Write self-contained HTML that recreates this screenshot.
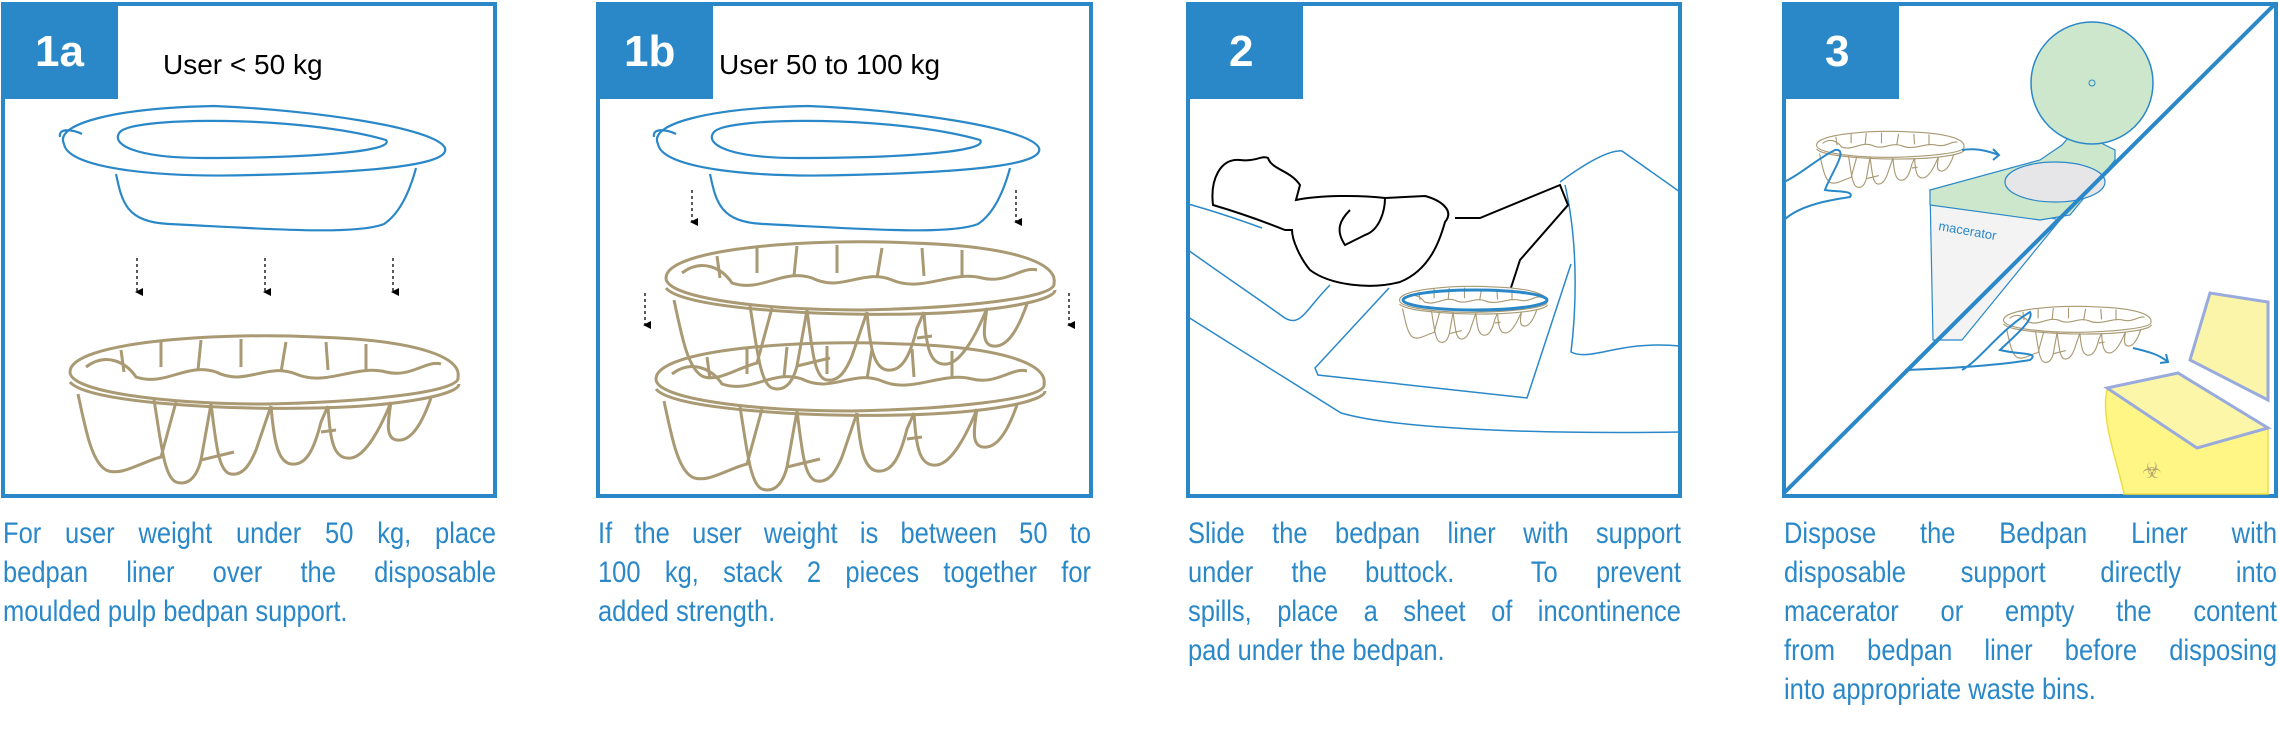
<!DOCTYPE html>
<html><head><meta charset="utf-8"><style>
html,body{margin:0;padding:0;background:#fff;width:2279px;height:748px;overflow:hidden}
.t{position:absolute;color:#2a88c8;font-family:"Liberation Sans",sans-serif;font-size:30px;line-height:39px;text-align:justify;width:580px;transform:scaleX(0.85);transform-origin:0 0}
.t span{display:block;text-align:justify;text-align-last:justify}
.t span.l{text-align-last:left}
svg{position:absolute;left:0;top:0}
</style></head><body>
<svg width="2279" height="748" viewBox="0 0 2279 748" xmlns="http://www.w3.org/2000/svg">
<defs>
<g id="pan" fill="none" stroke="#2a88c8" stroke-width="2.2">
<path d="M10,42 C0,22 60,6 160,4 C260,8 382,26 391,46 C396,62 330,70 200,73 C100,76 14,66 10,42 Z" fill="#fff"/>
<path d="M6,35 C4,25 20,28 28,32"/>
<path d="M66,30 C80,14 250,14 332,38 C342,50 250,56 150,56 C80,56 56,42 66,30 Z"/>
<path d="M62,72 C68,100 72,120 115,122 C200,126 300,134 330,122 C345,112 355,92 362,66"/>
</g>
<g id="sup" fill="none" stroke="#a99a74" stroke-width="3">
<path d="M4,40 C4,10 150,0 250,5 C350,8 396,25 392,45 C396,60 300,70 200,72 C100,72 4,60 4,40 Z" fill="#fff"/>
<path d="M4,50 C20,70 150,78 250,76 C340,74 393,62 393,52"/>
<path d="M20,35 C40,20 60,30 70,45 C100,55 120,30 150,40 C180,55 200,30 230,42 C260,55 290,32 320,40 C345,46 360,28 375,32"/>
<path d="M55,18 L58,40 M95,10 L95,35 M135,8 L132,38 M175,7 L175,35 M220,10 L215,40 M260,10 L262,38 M300,12 L300,40"/>
<path d="M12,62 C20,100 26,130 40,138 C55,145 75,130 95,125 L110,70"/>
<path d="M88,68 C95,110 98,145 110,150 C125,155 132,140 135,128 L145,72"/>
<path d="M145,72 C150,110 152,140 165,142 C178,144 185,130 190,118 L205,74"/>
<path d="M205,74 C208,110 212,130 225,132 C240,134 248,118 255,90 L262,74"/>
<path d="M262,74 C264,110 268,128 285,126 C300,124 315,95 325,70"/>
<path d="M325,70 C322,90 318,110 335,108 C350,106 360,80 365,66"/>
<path d="M135,128 L168,120 M255,100 L270,98"/>
</g>
<marker id="ar" markerWidth="8" markerHeight="8" refX="4" refY="6" orient="auto-start-reverse" markerUnits="userSpaceOnUse"><path d="M0,0 L8,0 L4,8 Z" fill="#000"/></marker>
</defs>
<g fill="none" stroke="#2a88c8" stroke-width="4">
<rect x="3" y="4" width="492" height="492"/>
<rect x="598" y="4" width="493" height="492"/>
<rect x="1188" y="4" width="492" height="492"/>
<rect x="1784" y="4" width="492" height="492"/>
</g>
<g fill="#2a88c8">
<rect x="1" y="2" width="117" height="97"/>
<rect x="596" y="2" width="117" height="97"/>
<rect x="1186" y="2" width="117" height="97"/>
<rect x="1782" y="2" width="117" height="97"/>
</g>
<g fill="#fff" font-family="Liberation Sans,sans-serif" font-weight="bold" font-size="44">
<text x="35" y="66">1a</text><text x="624" y="66">1b</text><text x="1229" y="66">2</text><text x="1825" y="66">3</text>
</g>
<g fill="#000" font-family="Liberation Sans,sans-serif" font-size="28">
<text x="163" y="74">User &lt; 50 kg</text><text x="719" y="74">User 50 to 100 kg</text>
</g>
<use href="#pan" x="54" y="102"/>
<use href="#sup" x="66" y="332"/>
<g stroke="#000" stroke-width="1.3" stroke-dasharray="3,3" marker-end="url(#ar)">
<line x1="137" y1="258" x2="137" y2="292"/><line x1="265" y1="258" x2="265" y2="292"/><line x1="393" y1="258" x2="393" y2="292"/>
<line x1="692" y1="190" x2="692" y2="222"/><line x1="1016" y1="190" x2="1016" y2="222"/>
<line x1="645" y1="293" x2="645" y2="325"/><line x1="1069" y1="293" x2="1069" y2="325"/>
</g>
<use href="#pan" x="648" y="102"/>
<use href="#sup" x="652" y="339"/>
<use href="#sup" x="662" y="238"/>
<g fill="none" stroke="#2a88c8" stroke-width="1.5">
<path d="M1188,204 C1210,210 1240,220 1262,228"/>
<path d="M1188,250 C1230,280 1260,300 1282,316 C1300,330 1305,310 1330,285"/>
<path d="M1188,317 L1341,413 C1400,430 1550,434 1680,432"/>
<path d="M1389,288 L1315,368 L1318,375 L1527,398 L1571,264"/>
<path d="M1560,182 C1590,160 1610,150 1622,151 L1680,192 M1565,185 C1580,250 1575,320 1571,352 C1590,362 1620,340 1680,346"/>
</g>
<g fill="none" stroke="#000" stroke-width="2">
<path d="M1213,205 C1210,180 1220,158 1240,160 C1255,162 1262,155 1268,158 C1272,170 1290,170 1300,185 L1296,200 C1320,195 1360,195 1385,198 L1425,196 C1440,200 1455,210 1445,222 C1440,240 1430,270 1400,282 C1370,290 1330,285 1310,270 C1300,258 1292,240 1292,230 L1285,230 C1260,220 1230,210 1213,205 Z"/>
<path d="M1350,210 C1340,220 1335,230 1345,245 L1365,235 C1380,230 1385,210 1385,198"/>
<path d="M1455,218 L1480,218 L1560,185 L1568,205 L1520,260 L1507,300"/>
</g>
<g transform="translate(1398,285) scale(0.38)"><use href="#sup"/></g>
<ellipse cx="1475" cy="300" rx="72" ry="10" fill="none" stroke="#2a88c8" stroke-width="3"/>
<path d="M1930,190 L1933,340 L1962,340 L2060,220 Z" fill="#f3f3f3" stroke="#2a88c8" stroke-width="1.2"/>
<path d="M1930,190 L2040,160 L2062,145 L2075,130 L2115,150 L2115,160 L2070,215 L2040,220 L1930,205 Z" fill="#cde7cd" stroke="#2a88c8" stroke-width="1.2"/>
<ellipse cx="2055" cy="182" rx="50" ry="20" fill="#e6e6e9" stroke="#2a88c8" stroke-width="1.2"/>
<ellipse cx="2092" cy="83" rx="61" ry="61" fill="#cde7cd" stroke="#2a88c8" stroke-width="1.5"/>
<circle cx="2092" cy="83" r="3" fill="none" stroke="#2a88c8"/>
<text x="1938" y="230" transform="rotate(10 1938 230)" font-family="Liberation Sans,sans-serif" font-size="13" fill="#2a88c8">macerator</text>
<path d="M2107,390 L2178,373 L2268,428 L2268,494 L2124,494 C2120,470 2100,420 2107,390 Z" fill="#fff685" stroke="#eedd44" stroke-width="1.5"/>
<path d="M2190,360 L2210,293 L2268,302 L2268,400 Z" fill="#faf5a8" stroke="#99aadd" stroke-width="3"/>
<path d="M2107,388 L2178,373 L2268,428 L2197,448 Z" fill="#fcf6a8" stroke="#99aadd" stroke-width="3"/>
<text x="2142" y="478" font-family="DejaVu Sans,sans-serif" font-size="22" fill="#bba870">☣</text>
<line x1="1785" y1="492" x2="2274" y2="5" stroke="#2a88c8" stroke-width="4"/>
<g transform="translate(1815,130) scale(0.38)"><use href="#sup"/></g>
<g transform="translate(2002,305) scale(0.38)"><use href="#sup"/></g>
<g fill="none" stroke="#2a88c8" stroke-width="2">
<path d="M1784,182 C1800,175 1815,160 1835,150 C1850,148 1830,175 1825,190 C1835,192 1855,190 1850,197 C1830,200 1800,205 1784,220"/>
<path d="M1962,370 C1980,360 2000,330 2030,312 C2035,320 2010,340 2000,350 C2020,355 2040,352 2030,360 C2000,365 1960,368 1905,370"/>
<path d="M1962,150 C1975,148 1985,150 1999,155 M1993,149 L1999,155 L1993,160"/>
<path d="M2133,348 C2150,352 2160,355 2168,362 M2166,354 L2168,362 L2160,363"/>
</g>
</svg>
<div class="t" style="left:3px;top:514px"><span>For user weight under 50 kg, place</span><span>bedpan liner over the disposable</span><span class="l">moulded pulp bedpan support.</span></div>
<div class="t" style="left:598px;top:514px"><span>If the user weight is between 50 to</span><span>100 kg, stack 2 pieces together for</span><span class="l">added strength.</span></div>
<div class="t" style="left:1188px;top:514px"><span>Slide the bedpan liner with support</span><span>under the buttock. &nbsp;To prevent</span><span>spills, place a sheet of incontinence</span><span class="l">pad under the bedpan.</span></div>
<div class="t" style="left:1784px;top:514px"><span>Dispose the Bedpan Liner with</span><span>disposable support directly into</span><span>macerator or empty the content</span><span>from bedpan liner before disposing</span><span class="l">into appropriate waste bins.</span></div>
</body></html>
